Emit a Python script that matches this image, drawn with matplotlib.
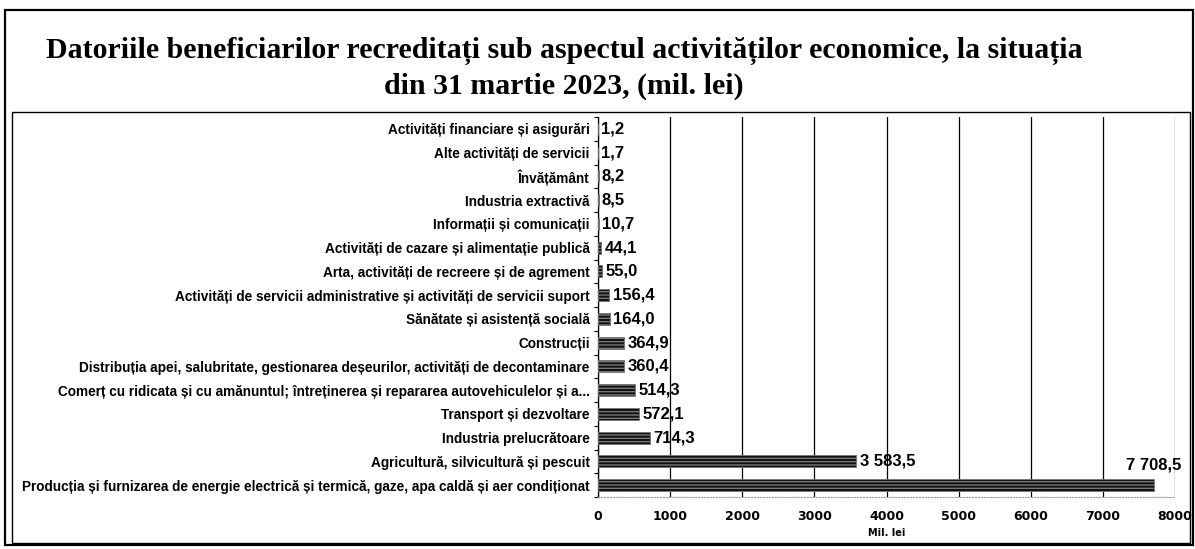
import matplotlib.pyplot as plt
from matplotlib.patches import Rectangle
import numpy as np

# Categories (top to bottom) and debts, mil. lei
categories = [
    "Activități financiare și asigurări",
    "Alte activități de servicii",
    "Învățământ",
    "Industria extractivă",
    "Informații și comunicații",
    "Activități de cazare și alimentație publică",
    "Arta, activități de recreere și de agrement",
    "Activități de servicii administrative și activități de servicii suport",
    "Sănătate și asistență socială",
    "Construcții",
    "Distribuția apei, salubritate, gestionarea deșeurilor, activități de decontaminare",
    "Comerț cu ridicata și cu amănuntul; întreținerea și repararea autovehiculelor și a...",
    "Transport și dezvoltare",
    "Industria prelucrătoare",
    "Agricultură, silvicultură și pescuit",
    "Producția și furnizarea de energie electrică și termică, gaze, apa caldă și aer condiționat",
]
values = [1.2, 1.7, 8.2, 8.5, 10.7, 44.1, 55.0, 156.4, 164.0, 364.9,
          360.4, 514.3, 572.1, 714.3, 3583.5, 7708.5]
xticks = [0, 1000, 2000, 3000, 4000, 5000, 6000, 7000, 8000]


def fmt(v):
    s = f"{v:,.1f}"
    return s.replace(",", " ").replace(".", ",")


fig = plt.figure(figsize=(11.95, 5.49), dpi=100)

# outer frame and inner chart frame
fig.patches.append(Rectangle((5 / 1195, 4 / 549), 1188 / 1195, 535 / 549,
                             transform=fig.transFigure, fill=False,
                             edgecolor="black", linewidth=1.6))
fig.patches.append(Rectangle((12 / 1195, 6 / 549), 1178 / 1195, 431 / 549,
                             transform=fig.transFigure, fill=False,
                             edgecolor="black", linewidth=1.0))

fig.text(0.472, 0.908, "Datoriile beneficiarilor recreditați sub aspectul activităților economice, la situația",
         ha="center", va="center", fontsize=21.5, fontweight="bold", family="Liberation Serif")
fig.text(0.472, 0.843, "din 31 martie 2023, (mil. lei)",
         ha="center", va="center", fontsize=21.5, fontweight="bold", family="Liberation Serif")

ax = fig.add_axes([598 / 1195, 52 / 549, 577 / 1195, 380 / 549])
y = np.arange(len(categories))
ax.barh(y, values, height=0.5, color="#111111", edgecolor="#777777",
        hatch="-----", linewidth=0.6, zorder=3)
ax.set_ylim(len(categories) - 0.5, -0.5)
ax.set_xlim(0, 8000)

for yi, v in zip(y, values):
    if v > 7000:
        ax.text(v - 10, yi - 0.85, fmt(v), ha="center", va="center",
                fontsize=12, fontweight="bold", family="Liberation Sans")
    else:
        ax.text(v + 45, yi, fmt(v), ha="left", va="center",
                fontsize=12, fontweight="bold", family="Liberation Sans")

ax.set_yticks(y)
ax.set_yticklabels(categories, fontsize=9.8, fontweight="bold", family="Liberation Sans")
ax.set_yticks(np.arange(-0.5, len(categories)), minor=True)
ax.tick_params(axis="y", which="major", length=0, pad=6)
ax.tick_params(axis="y", which="minor", length=3, width=0.8, direction="out")

ax.set_xticks(xticks)
ax.set_xticklabels([str(t) for t in xticks], fontsize=9, fontweight="bold")
ax.tick_params(axis="x", length=0, pad=9)
ax.set_xlabel("Mil. lei", fontsize=7, fontweight="bold", labelpad=4)

ax.grid(axis="x", color="black", linewidth=0.9, zorder=0)
for side in ["top", "right"]:
    ax.spines[side].set_visible(False)
ax.spines["bottom"].set_color("#999999")
ax.spines["bottom"].set_linestyle(":")
ax.spines["left"].set_linewidth(0.9)

fig.savefig("out.png", dpi=100)
